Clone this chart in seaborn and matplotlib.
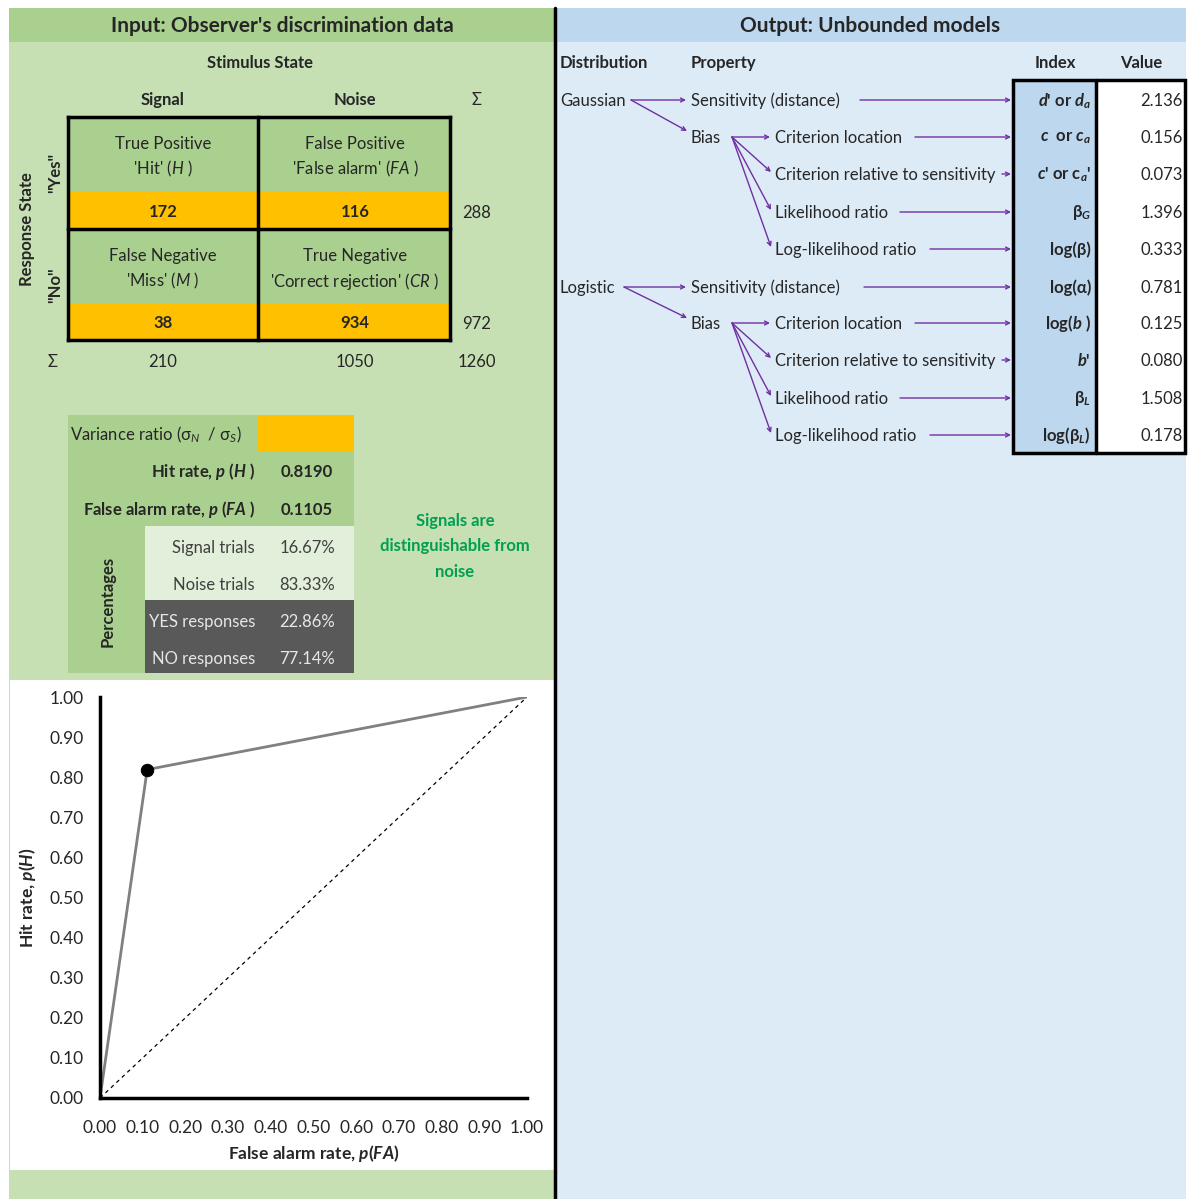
import numpy as np
import pandas as pd
import matplotlib
matplotlib.use("Agg")
import matplotlib.pyplot as plt
from matplotlib.patches import Rectangle
import seaborn as sb

sb.set_theme(style="white")
plt.rcParams['font.family'] = ['Lato', 'DejaVu Sans']
plt.rcParams['mathtext.fontset'] = 'custom'
plt.rcParams['mathtext.rm'] = 'Lato'
plt.rcParams['mathtext.it'] = 'Lato:italic'
plt.rcParams['mathtext.bf'] = 'Lato:bold'
plt.rcParams['mathtext.bfit'] = 'Lato:bold:italic'

# data
stimulus = ["Signal", "Noise"]
cell_titles = [["True Positive", "False Positive"], ["False Negative", "True Negative"]]
cell_sub = [["'Hit' ($\\mathit{H}$ )", "'False alarm' ($\\mathit{FA}$ )"],
            ["'Miss' ($\\mathit{M}$ )", "'Correct rejection' ($\\mathit{CR}$ )"]]
counts = [[172, 116], [38, 934]]
row_totals = [288, 972]
col_totals = [210, 1050]
grand_total = 1260
hit_rate = 0.8190
fa_rate = 0.1105
pct_labels = ["Signal trials", "Noise trials", "YES responses", "NO responses"]
pct_values = ["16.67%", "83.33%", "22.86%", "77.14%"]
roc_fa = [0.0, 0.1105, 1.0]
roc_hit = [0.0, 0.819, 1.0]
distributions = ["Gaussian", "Logistic"]
properties = ["Criterion location", "Criterion relative to sensitivity", "Likelihood ratio", "Log-likelihood ratio"]
index_labels = [r"$\mathbfit{d}$' or $\mathbfit{d}_\mathbfit{a}$",
                r"$\mathbfit{c}$  or $\mathbfit{c}_\mathbfit{a}$",
                r"$\mathbfit{c}$' or c$_\mathbfit{a}$'",
                r"β$_\mathbfit{G}$",
                "log(β)",
                "log(α)",
                r"log($\mathbfit{b}$ )",
                r"$\mathbfit{b}$'",
                r"β$_\mathbfit{L}$",
                r"log(β$_\mathbfit{L}$)"]
index_values = [2.136, 0.156, 0.073, 1.396, 0.333, 0.781, 0.125, 0.080, 1.508, 0.178]

W, H = 1195, 1199
fig = plt.figure(figsize=(W / 100, H / 100), dpi=100)
fig.patch.set_facecolor("white")
ax = fig.add_axes([0, 0, 1, 1])
ax.set_xlim(0, W)
ax.set_ylim(H, 0)
ax.axis("off")

GREEN = "#a9d08e"
LGREEN = "#c6e0b4"
PALE = "#e2efda"
ORANGE = "#ffc000"
DARK = "#595959"
BLUEH = "#bdd7ee"
BLUE = "#ddebf7"
PURPLE = "#7030a0"
FS = 12


def rect(x0, y0, x1, y1, color, **kw):
    ax.add_patch(Rectangle((x0, y0), x1 - x0, y1 - y0, facecolor=color, edgecolor="none", **kw))


def txt(x, y, s, **kw):
    kw.setdefault("fontsize", FS)
    kw.setdefault("ha", "center")
    kw.setdefault("va", "center")
    ax.text(x, y + 1, s, **kw)


# panels
rect(9, 8, 554, 42, GREEN)
rect(9, 42, 554, 1199, LGREEN)
rect(10, 680, 554, 1170, "white")
rect(557, 8, 1186, 42, BLUEH)
rect(557, 42, 1186, 1199, BLUE)
ax.plot([555.5, 555.5], [8, 1199], color="black", lw=2.5)

txt(282, 25, "Input: Observer's discrimination data", fontsize=15, fontweight="bold")
txt(870, 25, "Output: Unbounded models", fontsize=15, fontweight="bold")

# contingency table
txt(260, 62, "Stimulus State", fontweight="bold")
cx = [163, 355]
for j in range(2):
    txt(cx[j], 99, stimulus[j], fontweight="bold")
txt(477, 99, "Σ")
colx = [68, 258, 450]
rowy = [117, 229, 340]
for i in range(2):
    y0, y1 = rowy[i], rowy[i + 1]
    for j in range(2):
        x0, x1 = colx[j], colx[j + 1]
        rect(x0, y0, x1, y1 - 37, GREEN)
        rect(x0, y1 - 37, x1, y1, ORANGE)
        txt(cx[j], y0 + 26, cell_titles[i][j])
        txt(cx[j], y0 + 51, cell_sub[i][j])
        txt(cx[j], y1 - 18, str(counts[i][j]), fontweight="bold")
    txt(477, y1 - 17, str(row_totals[i]))
for x in colx:
    ax.plot([x, x], [rowy[0], rowy[-1]], color="black", lw=2.5, solid_capstyle="projecting")
for y in rowy:
    ax.plot([colx[0], colx[-1]], [y, y], color="black", lw=2.5, solid_capstyle="projecting")
txt(53, 361, "Σ")
for j in range(2):
    txt(cx[j], 361, str(col_totals[j]))
txt(477, 361, str(grand_total))
txt(27, 228, "Response State", fontweight="bold", rotation=90)
txt(55, 172, '"Yes"', fontweight="bold", rotation=90)
txt(55, 284, '"No"', fontweight="bold", rotation=90)

# summary block
rect(68, 415, 258, 526, GREEN)
rect(258, 415, 354, 452, ORANGE)
rect(258, 452, 354, 526, GREEN)
rect(68, 526, 145, 673, GREEN)
rect(145, 526, 354, 600, PALE)
rect(145, 600, 354, 673, DARK)
txt(70, 434, r"Variance ratio (σ$_N$  / σ$_S$)", ha="left")
txt(255, 471, r"Hit rate, $\mathbfit{p}$ ($\mathbfit{H}$ )", ha="right", fontweight="bold")
txt(307, 471, f"{hit_rate:.4f}", fontweight="bold")
txt(255, 509, r"False alarm rate, $\mathbfit{p}$ ($\mathbfit{FA}$ )", ha="right", fontweight="bold")
txt(307, 509, f"{fa_rate:.4f}", fontweight="bold")
for k, (lab, val) in enumerate(zip(pct_labels, pct_values)):
    c = "#404040" if k < 2 else "#e6e6e6"
    txt(255, 547 + 37 * k, lab, ha="right", color=c)
    txt(307, 547 + 37 * k, val, color=c)
txt(108, 600, "Percentages", fontweight="bold", rotation=90)
for k, line in enumerate(["Signals are", "distinguishable from", "noise"]):
    txt(455, 520 + 25.5 * k, line, fontweight="bold", color="#00a050")

# right panel
txt(560, 62, "Distribution", ha="left", fontweight="bold")
txt(691, 62, "Property", ha="left", fontweight="bold")
txt(1055, 62, "Index", fontweight="bold")
txt(1141, 62, "Value", fontweight="bold")
rect(1013, 80, 1096, 453, BLUEH)
rect(1096, 80, 1185, 453, "white")
ax.add_patch(Rectangle((1013, 80), 172, 373, facecolor="none", edgecolor="black", lw=2.5))
ax.plot([1096, 1096], [80, 453], color="black", lw=2.5)

rows_y = [100, 137, 174, 212, 249, 287, 323, 360, 398, 435]
for y, lab, val in zip(rows_y, index_labels, index_values):
    txt(1091, y, lab, ha="right", fontweight="bold")
    txt(1183, y, f"{val:.3f}", ha="right")


def arrow(x0, y0, x1, y1):
    ax.annotate("", xy=(x1, y1), xytext=(x0, y0),
                arrowprops=dict(arrowstyle="->", color=PURPLE, lw=1.0,
                                shrinkA=0, shrinkB=0, mutation_scale=7))


sens_end = [860, 864]
dist_end = [631, 624]
prop_end = [915, 1002, 900, 930]
for g in range(2):
    base = rows_y[5 * g]
    txt(560, base, distributions[g], ha="left")
    txt(691, base, "Sensitivity (distance)", ha="left")
    arrow(dist_end[g], base, 686, base)
    arrow(dist_end[g], base, 687, base + 31)
    arrow(sens_end[g], base, 1011, base)
    by = rows_y[5 * g + 1]
    txt(691, by, "Bias", ha="left")
    for k, p in enumerate(properties):
        py = rows_y[5 * g + 1 + k]
        txt(775, py, p, ha="left")
        if k == 0:
            arrow(732, by, 770, py)
        else:
            arrow(732, by, 771, py - 2)
        arrow(prop_end[k], py, 1011, py)

# ROC plot
rax = fig.add_axes([100 / W, 1 - 1098 / H, 427 / W, 401 / H])
roc = pd.DataFrame({"fa": roc_fa, "hit": roc_hit})
sb.lineplot(data=pd.DataFrame({"fa": [0, 1], "hit": [0, 1]}), x="fa", y="hit",
            ax=rax, color="black", lw=0.9, linestyle=(0, (3, 3)))
sb.lineplot(data=roc, x="fa", y="hit", ax=rax, color="#808080", lw=2)
sb.scatterplot(data=roc.iloc[[1]], x="fa", y="hit", ax=rax, color="black", s=80,
               edgecolor="black", zorder=5)
rax.set_xlim(0, 1)
rax.set_ylim(0, 1)
rax.set_facecolor("white")
ticks = np.round(np.arange(0, 1.01, 0.1), 2)
rax.set_xticks(ticks)
rax.set_yticks(ticks)
rax.set_xticklabels([f"{t:.2f}" for t in ticks], fontsize=12.5)
rax.set_yticklabels([f"{t:.2f}" for t in ticks], fontsize=12.5)
rax.tick_params(length=0, pad=12)
rax.tick_params(axis="x", pad=16)
for s in ["top", "right"]:
    rax.spines[s].set_visible(False)
for s in ["left", "bottom"]:
    rax.spines[s].set_color("black")
    rax.spines[s].set_linewidth(2.5)
rax.set_xlabel(r"False alarm rate, $\mathbfit{p}$($\mathbfit{FA}$)", fontsize=12.5, fontweight="bold", labelpad=5)
rax.set_ylabel(r"Hit rate, $\mathbfit{p}$($\mathbfit{H}$)", fontsize=12.5, fontweight="bold", labelpad=8)
rax.grid(False)

fig.savefig("out.png", dpi=100, facecolor="white")
